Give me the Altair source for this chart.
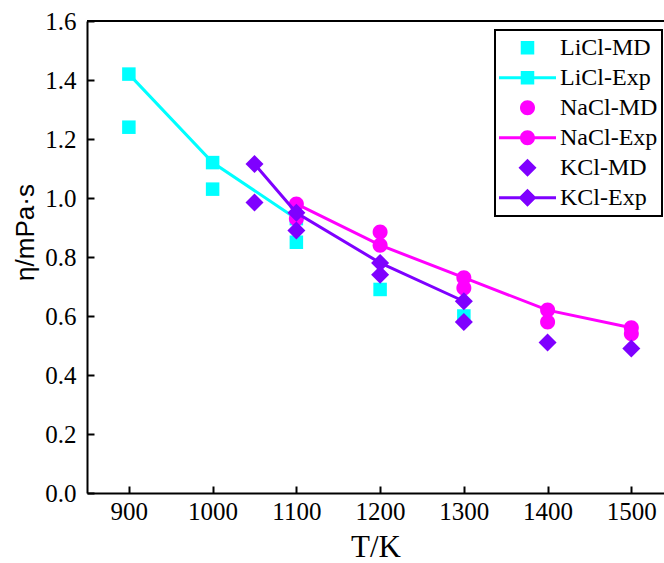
import altair as alt
import pandas as pd

# Viscosity of molten alkali chlorides: MD results vs experiment
T_LICL_MD = [900, 1000, 1100, 1200, 1300]
ETA_LICL_MD = [1.24, 1.03, 0.85, 0.69, 0.60]
T_LICL_EXP = [900, 1000, 1100]
ETA_LICL_EXP = [1.42, 1.12, 0.93]

T_NACL_MD = [1100, 1200, 1300, 1400, 1500]
ETA_NACL_MD = [0.93, 0.885, 0.695, 0.58, 0.54]
T_NACL_EXP = [1100, 1200, 1300, 1400, 1500]
ETA_NACL_EXP = [0.98, 0.84, 0.73, 0.62, 0.56]

T_KCL_MD = [1050, 1100, 1200, 1300, 1400, 1500]
ETA_KCL_MD = [0.985, 0.89, 0.74, 0.58, 0.51, 0.49]
T_KCL_EXP = [1050, 1100, 1200, 1300]
ETA_KCL_EXP = [1.115, 0.95, 0.78, 0.65]

SALTS = ["LiCl", "NaCl", "KCl"]
SERIES = ["LiCl-MD", "LiCl-Exp", "NaCl-MD", "NaCl-Exp", "KCl-MD", "KCl-Exp"]
COLORS = ["#00FFFF", "#00FFFF", "#FF00FF", "#FF00FF", "#7F00FF", "#7F00FF"]

X_TICKS = [900, 1000, 1100, 1200, 1300, 1400, 1500]
Y_TICKS = [round(i * 0.1, 1) for i in range(17)]

# Symbol paths in the unit box; drawn at SYM_SIZE so that the
# "-Exp" legend entries carry a line segment through the marker.
# All sub-paths run clockwise so the union fills solid.
SYM_SIZE = 3249
SQUARE = "M-0.237,-0.237H0.237V0.237H-0.237Z"
CIRCLE = "M-0.263,0A0.263,0.263,0,1,1,0.263,0A0.263,0.263,0,1,1,-0.263,0Z"
DIAMOND = "M0,-0.316L0.316,0L0,0.316L-0.316,0Z"
STICK = "M-1,-0.053H1V0.053H-1Z"
MARKERS = {"LiCl": SQUARE, "NaCl": CIRCLE, "KCl": DIAMOND}
SHAPES = [SQUARE, STICK + SQUARE, CIRCLE, STICK + CIRCLE, DIAMOND, STICK + DIAMOND]

frames = []
for name, ts, vs in [
    ("LiCl-MD", T_LICL_MD, ETA_LICL_MD),
    ("LiCl-Exp", T_LICL_EXP, ETA_LICL_EXP),
    ("NaCl-MD", T_NACL_MD, ETA_NACL_MD),
    ("NaCl-Exp", T_NACL_EXP, ETA_NACL_EXP),
    ("KCl-MD", T_KCL_MD, ETA_KCL_MD),
    ("KCl-Exp", T_KCL_EXP, ETA_KCL_EXP),
]:
    frames.append(pd.DataFrame({"T": ts, "eta": vs, "series": name}))
df = pd.concat(frames, ignore_index=True)

X_DOMAIN = [850, 1539]
x_enc = alt.X(
    "T:Q",
    scale=alt.Scale(domain=X_DOMAIN, nice=False, zero=False),
    axis=alt.Axis(values=X_TICKS, format="d", title="T/K"),
)
y_enc = alt.Y(
    "eta:Q",
    scale=alt.Scale(domain=[0, 1.6], nice=False),
    axis=alt.Axis(
        values=Y_TICKS,
        labelExpr="round(datum.value * 10) % 2 == 0 ? format(datum.value, '.1f') : ''",
        title="η/mPa·s",
        titleFont="Liberation Sans",
        titleFontSize=26,
        titleFontWeight="normal",
        titleX=-62,
        titleY=211,
        titleAlign="center",
        titleBaseline="middle",
    ),
)
color_scale = alt.Scale(domain=SERIES, range=COLORS)
shape_scale = alt.Scale(domain=SERIES, range=SHAPES)
legend = alt.Legend(
    title=None,
    orient="none",
    legendX=408,
    legendY=9,
    labelFont="Liberation Serif",
    labelFontSize=24,
    labelColor="black",
    labelOffset=4,
    symbolSize=SYM_SIZE,
    symbolStrokeWidth=0,
    clipHeight=27.5,
    rowPadding=2,
    padding=4,
    strokeColor="black",
)

base = alt.Chart(df)
layers = []
for salt in SALTS:
    md = f"{salt}-MD"
    exp = f"{salt}-Exp"
    layers.append(
        base.transform_filter(alt.datum.series == md)
        .mark_point(filled=True, size=SYM_SIZE, opacity=1)
        .encode(
            x=x_enc,
            y=y_enc,
            color=alt.Color("series:N", scale=color_scale, legend=legend),
            shape=alt.Shape("series:N", scale=shape_scale, legend=legend),
        )
    )
    layers.append(
        base.transform_filter(alt.datum.series == exp)
        .mark_line(strokeWidth=3)
        .encode(
            x=x_enc,
            y=y_enc,
            color=alt.Color("series:N", scale=color_scale, legend=None),
        )
    )
    layers.append(
        base.transform_filter(alt.datum.series == exp)
        .mark_point(filled=True, size=SYM_SIZE, opacity=1, shape=MARKERS[salt])
        .encode(
            x=x_enc,
            y=y_enc,
            color=alt.Color("series:N", scale=color_scale, legend=None),
        )
    )

# upper frame line of the plot area
top_edge = alt.Chart(df).mark_rule(color="black", strokeWidth=2).encode(
    x=alt.X(datum=X_DOMAIN[0], type="quantitative", axis=alt.Axis(title="T/K")),
    x2=alt.X2(datum=X_DOMAIN[1]),
    y=alt.Y(datum=1.6, type="quantitative", axis=alt.Axis(title="η/mPa·s")),
)

chart = (
    alt.layer(*layers, top_edge)
    .properties(
        width=577,
        height=472,
        autosize=alt.AutoSizeParams(type="none"),
        padding={"left": 87, "top": 21, "right": 0, "bottom": 70},
    )
    .configure_view(strokeWidth=0)
    .configure_axis(
        grid=False,
        domainColor="black",
        domainWidth=2,
        tickColor="black",
        tickWidth=2,
        tickSize={"expr": "-7"},
        labelFont="Liberation Serif",
        labelFontSize=25,
        labelColor="black",
        titleColor="black",
    )
    .configure_axisX(labelPadding=13, titleFont="Liberation Serif", titleFontSize=31,
                     titleFontWeight="normal", titlePadding=8)
    .configure_axisY(labelPadding=18)
    .configure_legend(strokeWidth=2)
)

chart.save("out.html", embed_options={"renderer": "svg", "actions": False})
